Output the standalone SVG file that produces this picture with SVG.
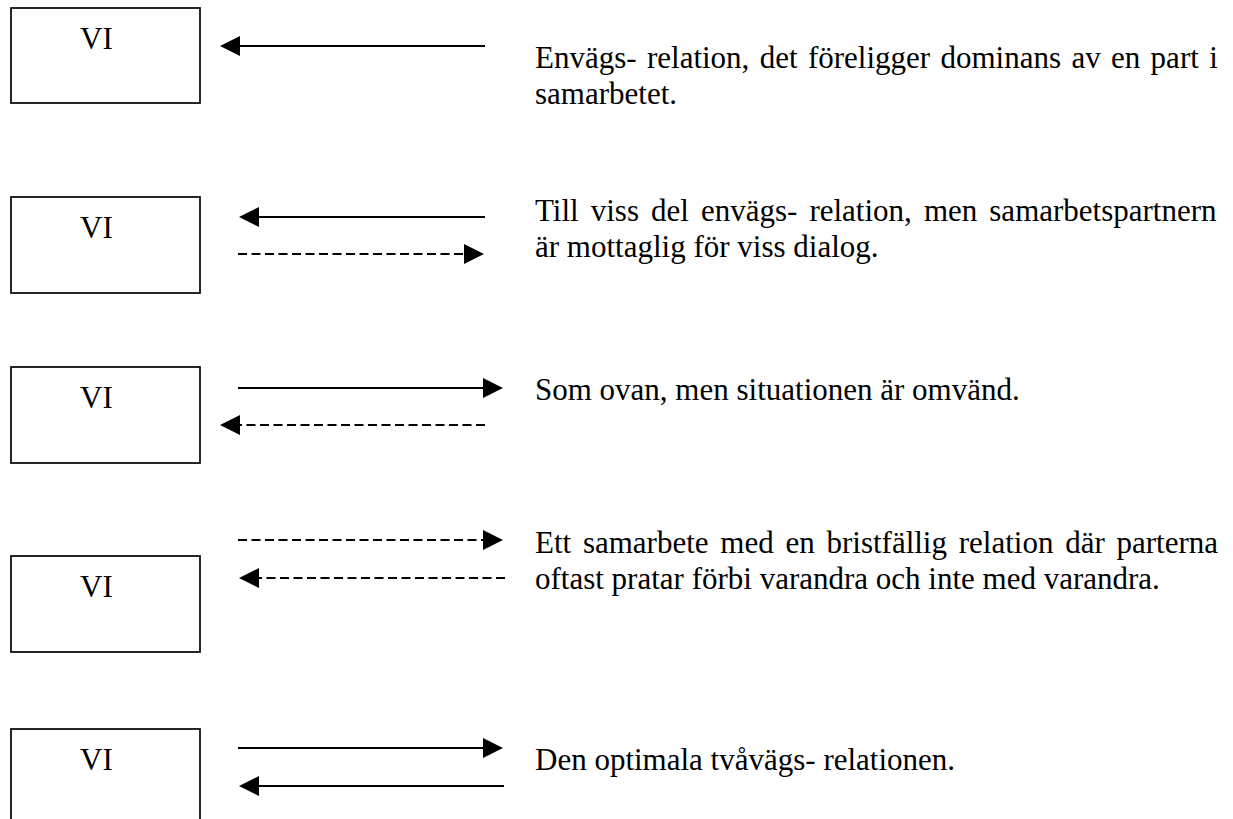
<svg xmlns="http://www.w3.org/2000/svg" width="1233" height="819" viewBox="0 0 1233 819">
  <style>
    .box { fill: #ffffff; stroke: #000000; stroke-width: 1.7; }
    .lbl { font-family: "Liberation Serif", "Times New Roman", serif; font-size: 31px; fill: #000000; }
    .solid { fill: none; stroke: #000000; stroke-width: 2; }
    .dash { fill: none; stroke: #000000; stroke-width: 2; stroke-dasharray: 9 4.5; }
  </style>
  <defs>
    <marker id="head" markerUnits="userSpaceOnUse" markerWidth="20" markerHeight="20" viewBox="0 0 20 20" refX="0" refY="10" orient="auto">
      <path d="M0,0 L20,10 L0,20 Z" fill="#000000" stroke="none"/>
    </marker>
  </defs>
  <rect width="1233" height="819" fill="#ffffff"/>

  <g id="node1">
    <rect class="box" x="11" y="8" width="189" height="95"/>
    <text class="lbl" x="80" y="49">VI</text>
  </g>
  <g id="node2">
    <rect class="box" x="11" y="197" width="189" height="96"/>
    <text class="lbl" x="80" y="238">VI</text>
  </g>
  <g id="node3">
    <rect class="box" x="11" y="367" width="189" height="96"/>
    <text class="lbl" x="80" y="408">VI</text>
  </g>
  <g id="node4">
    <rect class="box" x="11" y="556" width="189" height="96"/>
    <text class="lbl" x="80" y="597">VI</text>
  </g>
  <g id="node5">
    <rect class="box" x="11" y="729" width="189" height="110"/>
    <text class="lbl" x="80" y="770">VI</text>
  </g>

  <g id="connectors">
    <path class="solid" d="M485,46 L240,46" marker-end="url(#head)"/>
    <path class="solid" d="M485,217 L259,217" marker-end="url(#head)"/>
    <path class="dash" d="M238,254 L464,254" marker-end="url(#head)"/>
    <path class="solid" d="M238,388 L483,388" marker-end="url(#head)"/>
    <path class="dash" d="M485,425 L240,425" marker-end="url(#head)"/>
    <path class="dash" d="M238,540 L483,540" marker-end="url(#head)"/>
    <path class="dash" d="M505,578 L259,578" marker-end="url(#head)"/>
    <path class="solid" d="M238,748 L483,748" marker-end="url(#head)"/>
    <path class="solid" d="M504,786 L259,786" marker-end="url(#head)"/>
  </g>

  <g id="descriptions">
    <text class="lbl" x="535" y="68" word-spacing="2.6">Envägs- relation, det föreligger dominans av en part i</text>
    <text class="lbl" x="535" y="104">samarbetet.</text>
    <text class="lbl" x="535" y="221" word-spacing="4.3">Till viss del envägs- relation, men samarbetspartnern</text>
    <text class="lbl" x="535" y="257">är mottaglig för viss dialog.</text>
    <text class="lbl" x="535" y="400">Som ovan, men situationen är omvänd.</text>
    <text class="lbl" x="535" y="553" word-spacing="4">Ett samarbete med en bristfällig relation där parterna</text>
    <text class="lbl" x="535" y="589">oftast pratar förbi varandra och inte med varandra.</text>
    <text class="lbl" x="535" y="770">Den optimala tvåvägs- relationen.</text>
  </g>
</svg>
